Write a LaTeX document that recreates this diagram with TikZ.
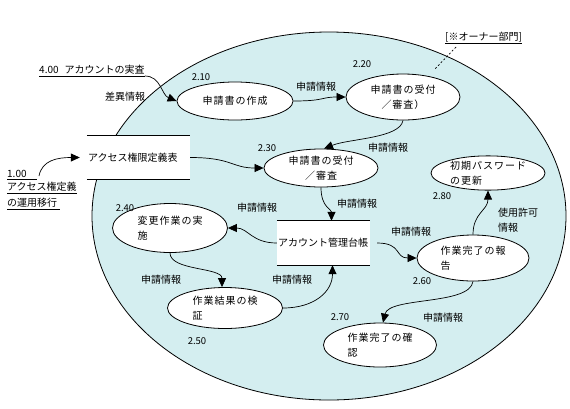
\documentclass[tikz,border=0pt]{standalone}
\usepackage{fontspec}
\setmainfont{Noto Sans CJK JP}
\newfontfamily\jpw[LetterSpace=10]{Noto Sans CJK JP}
\usetikzlibrary{arrows.meta,shapes.geometric}
\definecolor{bgcyan}{RGB}{212,238,240}
\begin{document}
\begin{tikzpicture}[x=1pt,y=-1pt,
  every node/.style={font=\fontsize{10}{15}\selectfont, inner sep=0pt},
  proc/.style={ellipse, draw, fill=white, line width=0.8pt, inner sep=0pt,
    font=\jpw\fontsize{10}{15}\selectfont, align=left},
  store/.style={fill=white, minimum height=44pt, text width=#1, align=left, inner xsep=1pt},
  flow/.style={draw, line width=0.7pt, -{Triangle[length=9pt,width=8pt]}},
  num/.style={font=\fontsize{9.5}{12}\selectfont},
  ext/.style={anchor=south west, inner xsep=0pt, inner ysep=1pt},
  uline/.style={draw, line width=0.8pt},
]
\useasboundingbox (0,0) rectangle (570,408);
% big boundary
\fill[bgcyan] (329,216) ellipse [x radius=237pt, y radius=184pt];
\draw[line width=0.8pt] (329,216) ellipse [x radius=237pt, y radius=184pt];

% data stores
\node[store=101pt] (s1) at (138.5,157.5) {アクセス権限定義表};
\draw[uline] (s1.north west) -- (s1.north east);
\draw[uline] (s1.south west) -- (s1.south east);
\node[store=91pt] (s2) at (323.5,243) {アカウント管理台帳};
\draw[uline] (s2.north west) -- (s2.north east);
\draw[uline] (s2.south west) -- (s2.south east);

% processes
\node[proc, minimum width=116pt, minimum height=38pt] (p10) at (235,101) {申請書の作成};
\node[proc, minimum width=114pt, minimum height=46pt, align=center] (p20) at (403,97) {申請書の受付\\／審査）};
\node[proc, minimum width=114pt, minimum height=38pt, align=center] (p30) at (321,168) {申請書の受付\\／審査};
\node[proc, minimum width=114pt, minimum height=34pt] (p80) at (488,173) {初期パスワード\\の更新};
\node[proc, minimum width=115pt, minimum height=49pt] (p40) at (170,228) {変更作業の実\\施};
\node[proc, minimum width=115pt, minimum height=41pt] (p50) at (225,308) {作業結果の検\\証};
\node[proc, minimum width=112pt, minimum height=46pt] (p60) at (473,258) {作業完了の報\\告};
\node[proc, minimum width=113pt, minimum height=44pt] (p70) at (380,345) {作業完了の確\\認};

% process numbers
\node[num] (n10) at (201,77) {2.10};
\node[num] (n20) at (362,64) {2.20};
\node[num] (n30) at (267,148) {2.30};
\node[num] (n40) at (125,208) {2.40};
\node[num] (n50) at (197,341) {2.50};
\node[num] (n60) at (422,281) {2.60};
\node[num] (n70) at (340,317) {2.70};
\node[num] (n80) at (442,196) {2.80};

% external labels
\node[ext] (x4) at (39,76) {4.00\hspace{6pt}アカウントの実査};
\draw[uline] (x4.south west) -- (x4.south east);
\node[ext] (y1) at (7,179) {1.00};
\draw[uline] (y1.south west) -- +(30,0);
\coordinate (y1e) at (39,176);
\node[ext] (y2) at (7,193) {アクセス権定義};
\draw[uline] (y2.south west) -- (y2.south east);
\node[ext] (y3) at (7,209) {の運用移行};
\draw[uline] (y3.south west) -- +(53,0);
\node[ext] (o1) at (445,43) {[※オーナー部門]};
\draw[uline] (o1.south west) -- (o1.south east);
\coordinate (oa) at (434,70);
\draw[line width=0.7pt, dash pattern=on 2pt off 2pt] ([xshift=11pt,yshift=-4pt]o1.south west) -- (oa);

% flow labels
\node (e10) at (125,97) {差異情報};
\node (e1) at (316,87) {申請情報};
\node (e2) at (388,148) {申請情報};
\node (e3) at (357,204) {申請情報};
\node (e4) at (257,208) {申請情報};
\node (e5) at (161,280) {申請情報};
\node (e6) at (292,280) {申請情報};
\node (e7) at (411,232) {申請情報};
\node (e8) at (443,318) {申請情報};
\node[anchor=west, align=left] (e9) at (498,220.5) {使用許可\\情報};

% flows
\draw[flow] (x4.south east) .. controls +(16,0) and +(-15,-6) .. (p10.west);
\draw[flow] (y1e) .. controls +(3,-16) and +(-22,0) .. ([xshift=-7pt]s1.west);
\draw[flow] (p10.east) .. controls +(32,0) and +(-25,0) .. (p20.west);
\draw[flow] (p20.south) .. controls +(-3,18) and +(25,-10) .. ([xshift=3pt]p30.north);
\draw[flow] (s1.east) .. controls +(42,0) and +(-32,0) .. (p30.west);
\draw[flow] (p30.south) .. controls +(0,20) and +(0,-12) .. ([xshift=8pt]s2.north);
\draw[flow] (s2.west) .. controls +(-25,0) and +(20,0) .. (p40.east);
\draw[flow] (p40.south) .. controls +(0,18) and +(0,-20) .. ([xshift=-3pt]p50.north);
\draw[flow] (p50.east) .. controls +(32,0) and +(0,26) .. ([xshift=9pt]s2.south);
\draw[flow] ([xshift=7pt]s2.east) .. controls +(25,0) and +(-22,0) .. (p60.west);
\draw[flow] (p60.north) .. controls +(0,-22) and +(0,20) .. (p80.south);
\draw[flow] (p60.south) .. controls +(-3,24) and +(6,-26) .. ([xshift=3pt]p70.north);
\end{tikzpicture}
\end{document}
